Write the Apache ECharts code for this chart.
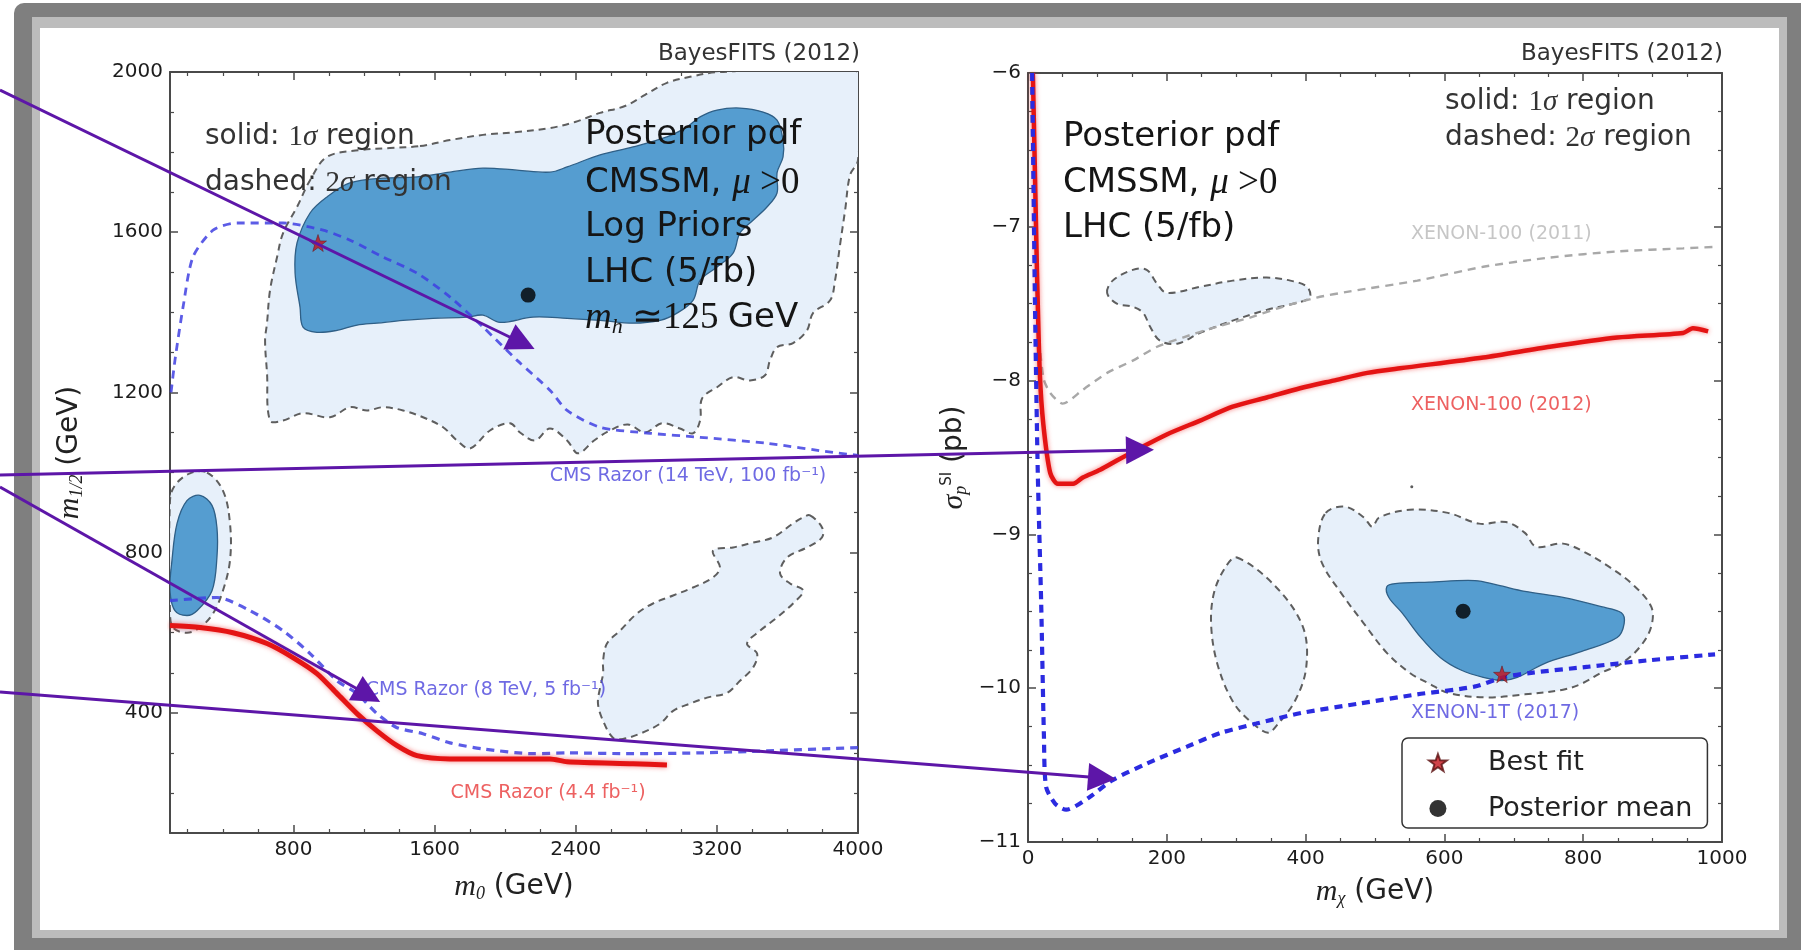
<!DOCTYPE html>
<html>
<head>
<meta charset="utf-8">
<title>BayesFITS CMSSM posterior</title>
<script src="https://cdn.jsdelivr.net/npm/echarts@6/dist/echarts.min.js"></script>
<style>
html, body { margin: 0; padding: 0; background: #fff; }
#main { width: 1801px; height: 950px; }
</style>
</head>
<body>
<div id="main"></div>
<script>
// ---------- left panel: (m0, m1/2) plane ----------
var m0Ticks = [800, 1600, 2400, 3200, 4000];
var m12Ticks = [400, 800, 1200, 1600, 2000];

// CMS razor limits
var razor14 = [[106,1200],[128,1280],[174,1413],[230,1538],[344,1605],[480,1623],[741,1623],[968,1605],[1121,1580],[1308,1538],[1500,1498],[1688,1438],[1875,1363],[2068,1280],[2255,1205],[2351,1155],[2538,1113],[2821,1098],[3105,1088],[3484,1073],[3859,1050],[4000,1043]];
var razor8 = [[100,680],[366,688],[554,655],[741,605],[894,548],[1047,480],[1160,448],[1273,398],[1387,363],[1534,348],[1687,325],[1874,310],[2158,298],[2351,300],[2725,298],[3105,300],[3484,305],[4000,313]];
var razor44 = [[100,618],[270,613],[457,600],[650,573],[797,538],[933,498],[1047,448],[1160,398],[1273,355],[1387,318],[1500,293],[1687,285],[1971,285],[2254,285],[2351,278],[2725,273],[2917,270]];

// credible regions (outlines)
var left2sBig = [[1517,1815],[1687,1830],[1874,1843],[2067,1850],[2254,1860],[2396,1875],[2538,1898],[2679,1915],[2793,1943],[2917,1973],[3048,1988],[3218,2000],[4000,2000],[4000,1780],[3955,1743],[3927,1655],[3898,1568],[3870,1480],[3842,1430],[3745,1398],[3711,1355],[3632,1323],[3541,1313],[3501,1280],[3473,1243],[3388,1230],[3292,1238],[3201,1213],[3116,1185],[3105,1130],[3065,1098],[2991,1110],[2889,1123],[2793,1100],[2696,1120],[2594,1105],[2504,1080],[2413,1048],[2351,1080],[2254,1110],[2169,1080],[2084,1100],[2027,1123],[1914,1105],[1801,1060],[1727,1080],[1648,1113],[1534,1138],[1421,1155],[1307,1163],[1217,1155],[1120,1163],[1007,1138],[854,1148],[741,1130],[667,1130],[650,1248],[639,1330],[650,1373],[667,1455],[707,1538],[741,1598],[820,1663],[894,1730],[990,1788],[1177,1805],[1347,1810]];
var left1sBig = [[820,1573],[894,1648],[990,1688],[1120,1723],[1307,1735],[1500,1738],[1687,1750],[1874,1760],[2067,1755],[2254,1750],[2351,1763],[2538,1793],[2725,1813],[2917,1838],[3031,1863],[3105,1888],[3201,1905],[3331,1910],[3462,1900],[3541,1880],[3575,1830],[3575,1788],[3541,1748],[3541,1698],[3484,1663],[3405,1630],[3331,1598],[3292,1548],[3201,1513],[3105,1480],[3065,1430],[2974,1398],[2878,1380],[2725,1373],[2538,1380],[2351,1385],[2158,1388],[1971,1375],[1874,1393],[1784,1388],[1591,1385],[1421,1380],[1273,1373],[1160,1368],[1047,1355],[933,1350],[854,1363],[837,1413],[809,1498]];
var left2sEll = [[310,1000],[400,955],[440,873],[440,780],[400,705],[344,648],[270,613],[196,600],[117,613],[100,655],[100,930],[128,968],[213,998]];
var left1sEll = [[270,943],[338,918],[366,863],[366,788],[338,705],[253,655],[196,643],[128,655],[100,705],[111,780],[140,873],[196,930]];
var left2sBlob = [[3728,893],[3796,863],[3796,838],[3711,813],[3598,788],[3558,748],[3615,723],[3689,705],[3632,673],[3541,638],[3445,605],[3371,573],[3428,548],[3405,513],[3331,480],[3258,450],[3144,438],[3048,423],[2952,405],[2878,373],[2764,348],[2668,335],[2611,338],[2555,380],[2526,423],[2538,463],[2555,498],[2555,530],[2577,573],[2651,605],[2747,648],[2838,673],[2952,693],[3065,713],[3178,738],[3218,763],[3178,805],[3292,813],[3405,825],[3518,838],[3632,873],[3689,888]];
var leftBest = [[939,1573]];
var leftMean = [[2130,1443]];
var leftNotes = [
  [3036, 990, 'CMS Razor (14 TeV, 100 fb\u207B\u00B9)', '#4b45dc'],
  [1891, 457, 'CMS Razor (8 TeV, 5 fb\u207B\u00B9)', '#4b45dc'],
  [2243, 200, 'CMS Razor (4.4 fb\u207B\u00B9)', '#e83a3a']
];

// ---------- right panel: (m_chi, log sigma_SI) plane ----------
var mxTicks = [0, 200, 400, 600, 800, 1000];
var sigTicks = [-11, -10, -9, -8, -7, -6];

var xenon2011 = [[4,-6],[12,-7.48],[22,-7.98],[32,-8.08],[50,-8.15],[79,-8.06],[114,-7.95],[151,-7.87],[186,-7.78],[223,-7.72],[272,-7.65],[320,-7.59],[367,-7.52],[416,-7.46],[464,-7.42],[561,-7.35],[656,-7.26],[752,-7.20],[849,-7.16],[944,-7.14],[993,-7.13]];
var xenon2012 = [[7,-6],[10,-6.65],[13,-7.30],[17,-7.95],[22,-8.28],[32,-8.60],[43,-8.67],[65,-8.67],[79,-8.63],[104,-8.58],[128,-8.52],[161,-8.44],[200,-8.35],[248,-8.26],[295,-8.17],[344,-8.11],[392,-8.05],[440,-8.00],[489,-7.95],[536,-7.92],[656,-7.85],[752,-7.78],[849,-7.72],[944,-7.69],[958,-7.66],[980,-7.68]];
var xenon1t = [[6,-6],[10,-7.48],[14,-8.58],[19,-9.45],[23,-10.32],[26,-10.64],[39,-10.75],[55,-10.79],[88,-10.71],[121,-10.60],[171,-10.49],[229,-10.38],[278,-10.29],[329,-10.23],[395,-10.16],[477,-10.10],[561,-10.04],[643,-9.99],[684,-9.93],[725,-9.90],[808,-9.86],[891,-9.82],[990,-9.78]];

var right2sSmall = [[114,-7.43],[122,-7.35],[151,-7.28],[171,-7.28],[186,-7.37],[200,-7.43],[248,-7.39],[295,-7.35],[344,-7.33],[378,-7.35],[402,-7.39],[406,-7.46],[382,-7.50],[344,-7.54],[295,-7.61],[248,-7.69],[215,-7.76],[190,-7.74],[176,-7.65],[166,-7.56],[151,-7.52],[128,-7.50]];
var right2sOval = [[301,-9.15],[357,-9.34],[396,-9.60],[401,-9.86],[385,-10.08],[357,-10.25],[346,-10.29],[324,-10.23],[297,-10.10],[274,-9.86],[264,-9.60],[268,-9.38],[285,-9.21]];
var right2sBig = [[429,-8.86],[457,-8.82],[484,-8.89],[496,-8.95],[506,-8.89],[550,-8.84],[605,-8.86],[650,-8.93],[689,-8.92],[716,-8.99],[732,-9.08],[771,-9.06],[804,-9.12],[837,-9.21],[870,-9.32],[898,-9.47],[898,-9.60],[882,-9.73],[855,-9.84],[826,-9.90],[798,-9.97],[771,-10.01],[716,-10.04],[661,-10.06],[605,-10.03],[578,-9.97],[550,-9.90],[517,-9.77],[484,-9.58],[451,-9.38],[424,-9.19],[418,-9.04]];
var right1s = [[517,-9.34],[529,-9.32],[578,-9.31],[644,-9.30],[677,-9.33],[716,-9.37],[771,-9.41],[826,-9.47],[855,-9.51],[859,-9.58],[849,-9.67],[798,-9.76],[744,-9.84],[705,-9.93],[683,-9.95],[656,-9.93],[623,-9.88],[594,-9.80],[566,-9.67],[539,-9.51],[520,-9.41]];
var rightBest = [[683,-9.91]];
var rightMean = [[627,-9.50]];
var rightSpeck = [[553,-8.69]];
var rightNotes = [
  [682, -7.05, 'XENON-100 (2011)', '#b8b8b8'],
  [682, -8.16, 'XENON-100 (2012)', '#e83a3a'],
  [673, -10.16, 'XENON-1T (2017)', '#4b45dc']
];

// slide annotation arrows, in page pixels (x right, y down)
var arrows = [
  [[0, 90], [522, 343]],
  [[0, 475], [1140, 450]],
  [[0, 487], [368, 695]],
  [[0, 692], [1102, 778]]
];

var starPath = 'path://M50 0 L61.76 33.82 L97.55 34.55 L69.02 56.18 L79.39 90.45 L50 70 L20.61 90.45 L30.98 56.18 L2.45 34.55 L38.24 33.82 Z';

var SANS = 'DejaVu Sans';
var SERIF = 'Liberation Serif';
var AXC = '#4a4a4a';

function minors(min, max, step, majors) {
  var out = [];
  var n = Math.round((max - min) / step);
  for (var i = 0; i <= n; i++) {
    var v = Math.round((min + i * step) * 1000) / 1000;
    if (majors.indexOf(v) < 0) out.push(v);
  }
  return out;
}

function axisSet(kind, grid, min, max, majors, minorVals, fmt) {
  var sides = kind === 'x' ? ['bottom', 'top'] : ['left', 'right'];
  var list = [];
  sides.forEach(function (side, k) {
    // major ticks (+ labels on the main side)
    list.push({
      type: 'value', gridIndex: grid, position: side, min: min, max: max,
      splitLine: { show: false },
      axisLine: { show: true, onZero: false, lineStyle: { color: AXC, width: 2 } },
      axisTick: { show: true, inside: true, length: 8, customValues: majors, lineStyle: { color: AXC, width: 1.5 } },
      axisLabel: {
        show: k === 0, customValues: majors, color: '#1c1c1c', fontSize: 20, fontFamily: SANS, margin: 7,
        formatter: fmt || function (v) { return String(v); }
      }
    });
    // minor ticks
    list.push({
      type: 'value', gridIndex: grid, position: side, min: min, max: max,
      splitLine: { show: false },
      axisLine: { show: false, onZero: false },
      axisTick: { show: true, inside: true, length: 4, customValues: minorVals, lineStyle: { color: AXC, width: 1.2 } },
      axisLabel: { show: false }
    });
  });
  return list;
}

var minusFmt = function (v) { return String(v).replace('-', '\u2212'); };

var xAxes = [].concat(
  axisSet('x', 0, 100, 4000, m0Ticks, minors(200, 3800, 200, m0Ticks)),
  axisSet('x', 1, 0, 1000, mxTicks, minors(50, 950, 50, mxTicks)),
  [{ type: 'value', gridIndex: 2, min: 0, max: 1801, show: false }]
);
var yAxes = [].concat(
  axisSet('y', 0, 100, 2000, m12Ticks, minors(200, 1900, 100, m12Ticks)),
  axisSet('y', 1, -11, -6, sigTicks, minors(-10.75, -6.25, 0.25, sigTicks), minusFmt),
  [{ type: 'value', gridIndex: 2, min: 0, max: 950, inverse: true, show: false }]
);

// axis titles with math-like rich text
var mathRich = {
  i: { fontFamily: SERIF, fontStyle: 'italic', fontSize: 30, color: '#222' },
  sub: { fontFamily: SERIF, fontStyle: 'italic', fontSize: 18, color: '#222', verticalAlign: 'bottom', padding: [14, 0, 0, 0] },
  sup: { fontFamily: SANS, fontSize: 15, color: '#222', padding: [0, 0, 14, 0] },
  t: { fontFamily: SANS, fontSize: 28, color: '#222' }
};
function axisTitle(ax, text, gap) {
  ax.name = text;
  ax.nameLocation = 'middle';
  ax.nameGap = gap;
  ax.nameTextStyle = { rich: mathRich };
}
axisTitle(xAxes[0], '{i|m}{sub|0}{t| (GeV)}', 38);
axisTitle(xAxes[4], '{i|m}{sub|\u03C7}{t| (GeV)}', 34);
axisTitle(yAxes[0], '{i|m}{sub|1/2}{t| (GeV)}', 84);
axisTitle(yAxes[4], '{i|\u03C3}{sub|p}{sup|SI}{t| (pb)}', 58);

function region(pts, panel, fill, stroke, dashed) {
  return {
    type: 'custom', xAxisIndex: panel * 4, yAxisIndex: panel * 4, clip: true, silent: true, z: 2,
    data: pts,
    renderItem: function (params, api) {
      if (params.dataIndex !== 0) return null;
      var poly = pts.map(function (p) { return api.coord(p); });
      return {
        type: 'polygon',
        shape: { points: poly, smooth: 0.35 },
        style: { fill: fill, stroke: stroke, lineWidth: dashed ? 2 : 1.3, lineDash: dashed ? [7, 5] : null }
      };
    }
  };
}

function curve(pts, panel, color, width, dashed, glow) {
  return {
    type: 'line', xAxisIndex: panel * 4, yAxisIndex: panel * 4, data: pts,
    showSymbol: false, symbol: 'none', smooth: 0.25, silent: true, z: 3,
    lineStyle: {
      color: color, width: width, type: dashed ? [8, 6] : 'solid', cap: 'butt',
      shadowBlur: glow ? 5 : 0, shadowColor: glow ? 'rgba(240,40,40,0.6)' : 'rgba(0,0,0,0)'
    }
  };
}

function notes(list, panel) {
  return {
    type: 'scatter', xAxisIndex: panel * 4, yAxisIndex: panel * 4, silent: true, z: 4,
    symbolSize: 0,
    data: list.map(function (d) { return { value: [d[0], d[1]], label: { color: d[3] } }; }),
    label: {
      show: true, position: 'inside', fontSize: 19, fontFamily: SANS,
      formatter: function (p) { return list[p.dataIndex][2]; }
    }
  };
}

var LIGHT = '#e7f0fa', MID = '#559dd0', DASHC = '#5e5e5e', EDGE = '#2f5f86';

var series = [
  region(left2sBig, 0, LIGHT, DASHC, true),
  region(left2sEll, 0, LIGHT, DASHC, true),
  region(left2sBlob, 0, LIGHT, DASHC, true),
  region(left1sBig, 0, MID, EDGE, false),
  region(left1sEll, 0, MID, EDGE, false),
  curve(razor14, 0, 'rgba(64,64,226,0.85)', 2.8, true, false),
  curve(razor8, 0, 'rgba(64,64,226,0.85)', 3.2, true, false),
  curve(razor44, 0, '#e41414', 5, false, true),
  notes(leftNotes, 0),

  region(right2sSmall, 1, LIGHT, DASHC, true),
  region(right2sOval, 1, LIGHT, DASHC, true),
  region(right2sBig, 1, LIGHT, DASHC, true),
  region(right1s, 1, MID, EDGE, false),
  curve(xenon2011, 1, '#a8a8a8', 2.4, true, false),
  curve(xenon2012, 1, '#e41414', 4.5, false, true),
  curve(xenon1t, 1, '#2b2be0', 4.2, true, false),
  notes(rightNotes, 1),

  { name: 'Best fit', type: 'scatter', xAxisIndex: 0, yAxisIndex: 0, data: leftBest, symbol: starPath, symbolSize: 17, z: 6,
    itemStyle: { color: '#c4141c', borderColor: '#5a1010', borderWidth: 0.6 } },
  { name: 'Posterior mean', type: 'scatter', xAxisIndex: 0, yAxisIndex: 0, data: leftMean, symbol: 'circle', symbolSize: 15, z: 6,
    itemStyle: { color: '#000' } },
  { name: 'Best fit', type: 'scatter', xAxisIndex: 4, yAxisIndex: 4, data: rightBest, symbol: starPath, symbolSize: 17, z: 6,
    itemStyle: { color: '#c4141c', borderColor: '#5a1010', borderWidth: 0.6 } },
  { name: 'Posterior mean', type: 'scatter', xAxisIndex: 4, yAxisIndex: 4, data: rightMean, symbol: 'circle', symbolSize: 15, z: 6,
    itemStyle: { color: '#000' } },
  { type: 'scatter', xAxisIndex: 4, yAxisIndex: 4, data: rightSpeck, symbolSize: 3, silent: true, itemStyle: { color: '#333' } },

  // purple slide arrows over everything
  {
    type: 'lines', coordinateSystem: 'cartesian2d', xAxisIndex: 8, yAxisIndex: 8, silent: true, z: 20,
    symbol: ['none', 'triangle'], symbolSize: 28,
    lineStyle: { color: '#5d16a8', width: 3, opacity: 1, curveness: 0 },
    data: arrows.map(function (a) { return { coords: a }; })
  }
];

function txt(x, y, text, size, extra) {
  var st = { text: text, x: x, y: y, fontSize: size, fontFamily: SANS, fill: '#1e1e1e', align: 'left', verticalAlign: 'middle' };
  for (var k in extra) st[k] = extra[k];
  return { type: 'text', z: 50, style: st };
}

var infoRich = {
  t: { fontFamily: SANS, fontSize: 34, fill: '#151515' },
  i: { fontFamily: SERIF, fontStyle: 'italic', fontSize: 37, fill: '#151515' },
  s: { fontFamily: SERIF, fontSize: 37, fill: '#151515' },
  sub: { fontFamily: SERIF, fontStyle: 'italic', fontSize: 22, fill: '#151515', verticalAlign: 'bottom', padding: [18, 0, 0, 0] }
};
var noteRich = {
  t: { fontFamily: SANS, fontSize: 28, fill: '#333' },
  s: { fontFamily: SERIF, fontSize: 29, fill: '#333' },
  i: { fontFamily: SERIF, fontStyle: 'italic', fontSize: 29, fill: '#333' }
};

var graphic = [
  // slide frame
  { type: 'rect', z: -10, shape: { x: 14, y: 3, width: 1800, height: 960, r: 10 }, style: { fill: '#7f7f7f' } },
  { type: 'rect', z: -9, shape: { x: 32, y: 17, width: 1755, height: 921 }, style: { fill: '#bcbcbc' } },
  { type: 'rect', z: -8, shape: { x: 40, y: 28, width: 1739, height: 902 }, style: { fill: '#ffffff' } },

  txt(860, 54, 'BayesFITS (2012)', 23, { align: 'right', fill: '#333' }),
  txt(1723, 54, 'BayesFITS (2012)', 23, { align: 'right', fill: '#333' }),

  txt(205, 137, '{t|solid: }{s|1}{i|\u03C3}{t| region}', 28, { rich: noteRich }),
  txt(205, 183, '{t|dashed: }{s|2}{i|\u03C3}{t| region}', 28, { rich: noteRich }),
  txt(1445, 102, '{t|solid: }{s|1}{i|\u03C3}{t| region}', 28, { rich: noteRich }),
  txt(1445, 138, '{t|dashed: }{s|2}{i|\u03C3}{t| region}', 28, { rich: noteRich }),

  txt(585, 135, '{t|Posterior pdf}', 34, { rich: infoRich }),
  txt(585, 183, '{t|CMSSM, }{i|\u03BC}{s| >0}', 34, { rich: infoRich }),
  txt(585, 227, '{t|Log Priors}', 34, { rich: infoRich }),
  txt(585, 273, '{t|LHC (5/fb)}', 34, { rich: infoRich }),
  txt(585, 318, '{i|m}{sub|h}{s| \u2243125 }{t|GeV}', 34, { rich: infoRich }),

  txt(1063, 137, '{t|Posterior pdf}', 34, { rich: infoRich }),
  txt(1063, 183, '{t|CMSSM, }{i|\u03BC}{s| >0}', 34, { rich: infoRich }),
  txt(1063, 228, '{t|LHC (5/fb)}', 34, { rich: infoRich })
];

var chart = echarts.init(document.getElementById('main'), null, { renderer: 'canvas' });
chart.setOption({
  animation: false,
  backgroundColor: '#ffffff',
  grid: [
    { left: 170, top: 72, width: 688, height: 761 },
    { left: 1028, top: 73, width: 694, height: 769 },
    { left: 0, top: 0, width: 1801, height: 950 }
  ],
  xAxis: xAxes,
  yAxis: yAxes,
  legend: {
    data: [{ name: 'Best fit', icon: starPath }, { name: 'Posterior mean', icon: 'circle' }],
    orient: 'vertical', left: 1402, top: 738,
    padding: [11, 15, 6, 26], itemWidth: 28, itemHeight: 17, itemGap: 19,
    borderColor: '#333', borderWidth: 1.5, borderRadius: 6, backgroundColor: '#fff',
    selectedMode: false, z: 8,
    textStyle: { fontSize: 27, fontFamily: SANS, color: '#222', padding: [0, 0, 0, 31] }
  },
  graphic: graphic,
  series: series
});
</script>
</body>
</html>
